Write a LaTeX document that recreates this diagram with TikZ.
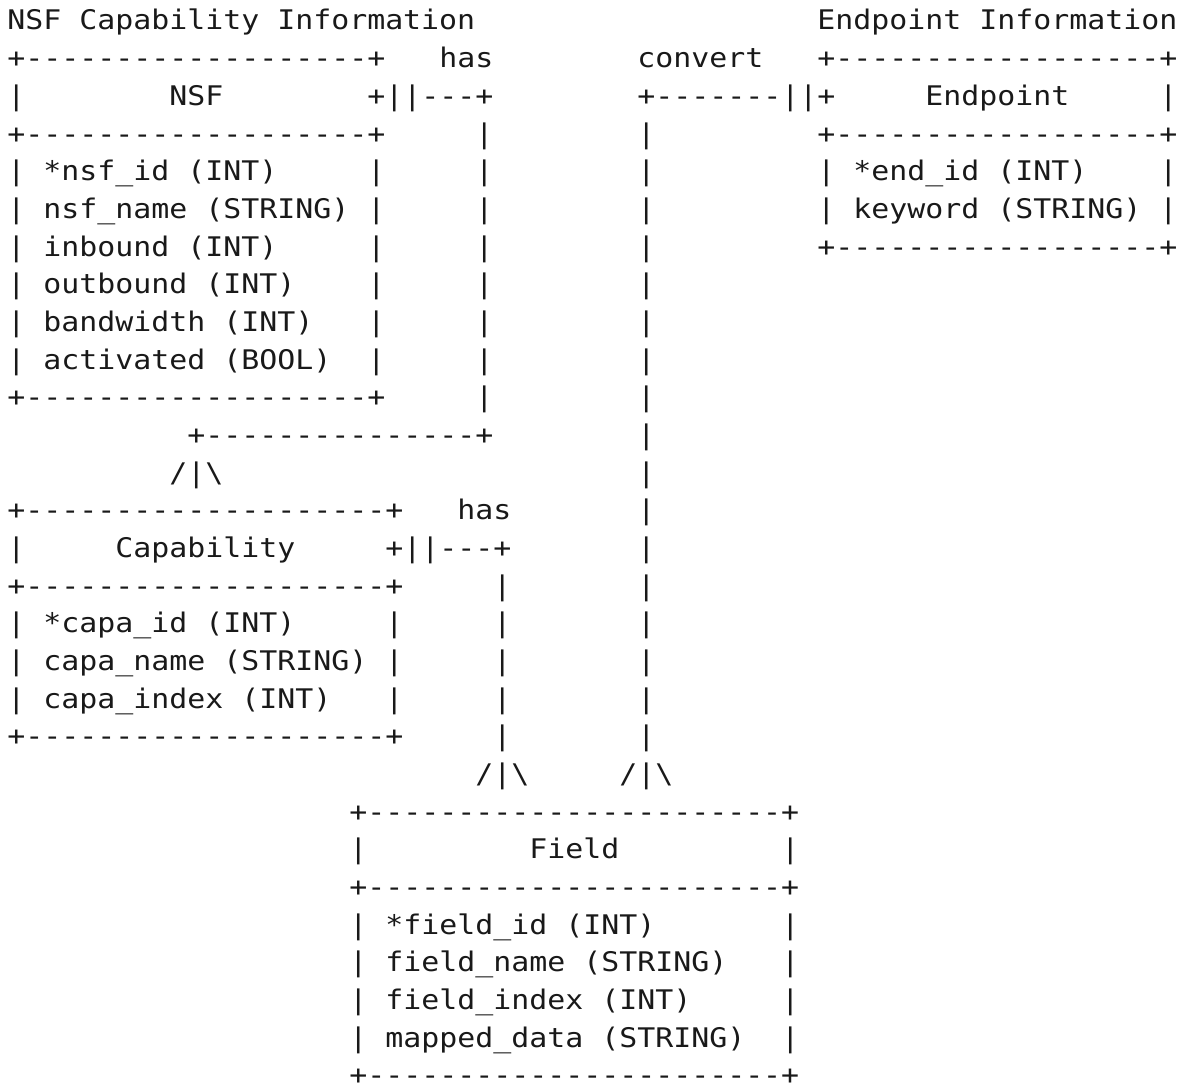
\documentclass[tikz,border=0pt]{standalone}
\usepackage{fontspec}
\setmonofont[FakeStretch=1.107]{DejaVu Sans Mono}

% une ligne de tirets de longueur donnee
\newcommand\dashrun[1]{\foreach \k in {1,...,#1}{-}}

\tikzset{
    % chaque morceau de texte ASCII, pose sur la grille des caracteres
    ascii/.style={
        font=\ttfamily\fontsize{13.5pt}{18pt}\selectfont,
        inner sep=0pt,
        anchor=base west,
        text=black!90
    }
}

\begin{document}
\begin{tikzpicture}[x=9pt, y=-18.835pt]
    \useasboundingbox (-3.5pt,15pt) rectangle (593pt,-528pt);

    % --- 1. Titres ---
    \node[ascii] (nsf-title) at (0,0) {NSF Capability Information};
    \node[ascii] (end-title) at (45,0) {Endpoint Information};

    % --- 2. Table NSF ---
    \node[ascii] (nsf-top)  at (0,1)  {+\dashrun{19}+};
    \node[ascii] (nsf-left) at (0,2)  {|};
    \node[ascii] (nsf-head) at (9,2)  {NSF};
    \node[ascii] (nsf-sep)  at (0,3)  {+\dashrun{19}+};
    \node[ascii] (nsf-id)   at (2,4)  {*nsf\_id (INT)};
    \node[ascii] (nsf-name) at (2,5)  {nsf\_name (STRING)};
    \node[ascii] (nsf-in)   at (2,6)  {inbound (INT)};
    \node[ascii] (nsf-out)  at (2,7)  {outbound (INT)};
    \node[ascii] (nsf-bw)   at (2,8)  {bandwidth (INT)};
    \node[ascii] (nsf-act)  at (2,9)  {activated (BOOL)};
    \foreach \r in {4,...,9} {
        \node[ascii] (nsf-l\r) at (0,\r)  {|};
        \node[ascii] (nsf-r\r) at (20,\r) {|};
    }
    \node[ascii] (nsf-bot)  at (0,10) {+\dashrun{19}+};

    % --- 3. Lien "has" : NSF -> Capability ---
    \node[ascii] (has1-label) at (24,1) {has};
    \node[ascii] (has1-start) at (20,2) {+||\dashrun{3}+};
    \foreach \r in {3,...,10}
        \node[ascii] (has1-\r) at (26,\r) {|};
    \node[ascii] (has1-turn) at (10,11) {+\dashrun{15}+};
    \node[ascii] (has1-crow) at (9,12)  {/|\textbackslash};

    % --- 4. Table Endpoint ---
    \node[ascii] (end-top)   at (45,1) {+\dashrun{18}+};
    \node[ascii] (end-head)  at (51,2) {Endpoint};
    \node[ascii] (end-right) at (64,2) {|};
    \node[ascii] (end-sep)   at (45,3) {+\dashrun{18}+};
    \node[ascii] (end-id)    at (47,4) {*end\_id (INT)};
    \node[ascii] (end-kw)    at (47,5) {keyword (STRING)};
    \foreach \r in {4,5} {
        \node[ascii] (end-l\r) at (45,\r) {|};
        \node[ascii] (end-r\r) at (64,\r) {|};
    }
    \node[ascii] (end-bot)   at (45,6) {+\dashrun{18}+};

    % --- 5. Lien "convert" : Endpoint -> Field ---
    \node[ascii] (conv-label) at (35,1) {convert};
    \node[ascii] (conv-start) at (35,2) {+\dashrun{7}||+};
    \foreach \r in {3,...,19}
        \node[ascii] (conv-\r) at (35,\r) {|};
    \node[ascii] (conv-crow) at (34,20) {/|\textbackslash};

    % --- 6. Table Capability ---
    \node[ascii] (capa-top)   at (0,13) {+\dashrun{20}+};
    \node[ascii] (capa-left)  at (0,14) {|};
    \node[ascii] (capa-head)  at (6,14) {Capability};
    \node[ascii] (capa-sep)   at (0,15) {+\dashrun{20}+};
    \node[ascii] (capa-id)    at (2,16) {*capa\_id (INT)};
    \node[ascii] (capa-name)  at (2,17) {capa\_name (STRING)};
    \node[ascii] (capa-index) at (2,18) {capa\_index (INT)};
    \foreach \r in {16,17,18} {
        \node[ascii] (capa-l\r) at (0,\r)  {|};
        \node[ascii] (capa-r\r) at (21,\r) {|};
    }
    \node[ascii] (capa-bot)   at (0,19) {+\dashrun{20}+};

    % --- 7. Lien "has" : Capability -> Field ---
    \node[ascii] (has2-label) at (25,13) {has};
    \node[ascii] (has2-start) at (21,14) {+||\dashrun{3}+};
    \foreach \r in {15,...,19}
        \node[ascii] (has2-\r) at (27,\r) {|};
    \node[ascii] (has2-crow) at (26,20) {/|\textbackslash};

    % --- 8. Table Field ---
    \node[ascii] (field-top)   at (19,21) {+\dashrun{23}+};
    \node[ascii] (field-left)  at (19,22) {|};
    \node[ascii] (field-head)  at (29,22) {Field};
    \node[ascii] (field-right) at (43,22) {|};
    \node[ascii] (field-sep)   at (19,23) {+\dashrun{23}+};
    \node[ascii] (field-id)    at (21,24) {*field\_id (INT)};
    \node[ascii] (field-name)  at (21,25) {field\_name (STRING)};
    \node[ascii] (field-index) at (21,26) {field\_index (INT)};
    \node[ascii] (field-data)  at (21,27) {mapped\_data (STRING)};
    \foreach \r in {24,...,27} {
        \node[ascii] (field-l\r) at (19,\r) {|};
        \node[ascii] (field-r\r) at (43,\r) {|};
    }
    \node[ascii] (field-bot)   at (19,28) {+\dashrun{23}+};

\end{tikzpicture}
\end{document}
